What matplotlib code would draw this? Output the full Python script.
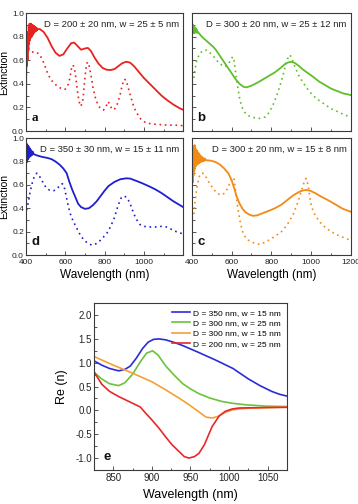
import matplotlib
matplotlib.use("Agg")
import matplotlib.pyplot as plt
from matplotlib.ticker import MultipleLocator

plt.rcParams["font.family"] = ["Liberation Sans", "DejaVu Sans"]
plt.rcParams["axes.unicode_minus"] = False

# ---- panel a: D = 200 nm, w = 25 nm (red)
a_exp_wl = [400, 401, 402, 404, 406, 408, 410, 412, 414, 416, 418, 420, 422, 424, 426,
            428, 430, 432, 434, 436, 438, 440, 442, 444, 446, 448, 450, 452, 454, 456,
            460, 470, 490, 510, 530, 550, 570, 590, 610,
            630, 645, 660, 680, 700, 715, 730, 750, 770, 790, 810, 830, 850, 870, 890,
            910, 930, 950, 970, 1000, 1030, 1060, 1090, 1120, 1150, 1180, 1200]
a_exp = [0.02, 0.45, 0.62, 0.55, 0.75, 0.60, 0.84, 0.68, 0.89, 0.74, 0.91, 0.77, 0.90,
         0.79, 0.91, 0.80, 0.90, 0.81, 0.90, 0.82, 0.89, 0.83, 0.89, 0.84, 0.885, 0.845,
         0.88, 0.85, 0.875, 0.855, 0.865, 0.865, 0.84, 0.79, 0.72,
         0.665, 0.637, 0.65, 0.70, 0.745, 0.75, 0.725, 0.69, 0.70, 0.705, 0.68, 0.62,
         0.57, 0.535, 0.52, 0.517, 0.525, 0.55, 0.575, 0.588, 0.58, 0.55, 0.51, 0.45,
         0.40, 0.35, 0.30, 0.26, 0.225, 0.195, 0.18]
a_sim_wl = [430, 450, 470, 490, 510, 525, 545, 565, 585, 600, 612, 622, 632, 640, 648,
            656, 664, 672, 680, 690, 700, 708, 714, 722, 732, 742, 755, 770, 785, 795,
            808, 819, 830, 840, 852, 865, 878, 890, 900, 910, 920, 935, 950, 965, 985,
            1010, 1040, 1080, 1120, 1160, 1200]
a_sim = [0.67, 0.67, 0.65, 0.58, 0.49, 0.44, 0.40, 0.375, 0.355, 0.355, 0.38, 0.44, 0.53,
         0.56, 0.52, 0.42, 0.31, 0.24, 0.21, 0.27, 0.45, 0.57, 0.585, 0.55, 0.46, 0.36,
         0.27, 0.21, 0.185, 0.178, 0.21, 0.25, 0.21, 0.18, 0.19, 0.23, 0.30, 0.39, 0.44,
         0.43, 0.37, 0.28, 0.20, 0.15, 0.10, 0.07, 0.06, 0.055, 0.05, 0.05, 0.045]

# ---- panel b: D = 300 nm, w = 25 nm (green)
b_exp_wl = [400, 401, 402, 404, 406, 408, 410, 412, 414, 416, 418, 420, 422, 424, 426,
            428, 430, 450, 470, 490,
            507, 520, 540, 560, 580, 600, 620, 640, 660, 675, 700, 730, 760, 790, 820,
            850, 870, 890, 905, 920, 940, 960, 985, 1010, 1040, 1070, 1100, 1130, 1160, 1200]
b_exp = [0.90, 0.82, 0.91, 0.83, 0.90, 0.84, 0.89, 0.83, 0.88, 0.84, 0.875, 0.835, 0.865,
         0.835, 0.855, 0.835, 0.84, 0.80,
         0.77, 0.74, 0.715, 0.69, 0.64, 0.59, 0.54, 0.49, 0.44, 0.40, 0.375, 0.37, 0.385,
         0.41, 0.44, 0.47, 0.50, 0.54, 0.57, 0.585, 0.586, 0.575, 0.55, 0.52, 0.49, 0.46,
         0.42, 0.39, 0.36, 0.34, 0.32, 0.305]
b_sim_wl = [410, 415, 425, 440, 460, 475, 490, 510, 530, 550, 566, 580, 595, 605, 612,
            620, 630, 640, 650, 665, 685, 710, 740, 770, 790, 805, 818, 835, 855, 872,
            885, 893, 900, 915, 935, 960, 985, 1010, 1040, 1070, 1100, 1140, 1170, 1200]
b_sim = [0.45, 0.52, 0.60, 0.66, 0.685, 0.685, 0.665, 0.63, 0.59, 0.56, 0.545, 0.56, 0.60,
         0.63, 0.60, 0.50, 0.38, 0.28, 0.21, 0.16, 0.13, 0.115, 0.107, 0.12, 0.16, 0.21,
         0.26, 0.34, 0.45, 0.56, 0.63, 0.645, 0.63, 0.56, 0.48, 0.41, 0.35, 0.30, 0.26,
         0.225, 0.19, 0.16, 0.135, 0.12]

# ---- panel d: D = 350 nm, w = 15 nm (blue)
d_exp_wl = [400, 401, 402, 404, 406, 408, 410, 412, 414, 416, 418, 420, 422, 424, 426,
            428, 430, 432, 434, 436, 438, 450, 480, 510, 530, 550, 573, 590, 607, 620,
            635, 650, 665, 680, 700,
            720, 740, 760, 780, 800, 820, 850, 880, 910, 930, 960, 990, 1030, 1060, 1090,
            1120, 1150, 1180, 1200]
d_exp = [0.80, 0.94, 0.79, 0.95, 0.80, 0.94, 0.82, 0.93, 0.83, 0.92, 0.84, 0.91, 0.845,
         0.90, 0.85, 0.89, 0.855, 0.885, 0.86, 0.88, 0.865, 0.855, 0.84, 0.83, 0.82,
         0.80, 0.77, 0.74, 0.70, 0.63, 0.56,
         0.50, 0.44, 0.41, 0.395, 0.40, 0.425, 0.46, 0.505, 0.55, 0.59, 0.625, 0.648,
         0.656, 0.654, 0.635, 0.615, 0.585, 0.56, 0.53, 0.495, 0.46, 0.43, 0.41]
d_sim_wl = [403, 412, 420, 429, 440, 455, 470, 490, 505, 520, 541, 560, 575, 585, 595,
            605, 615, 625, 640, 658, 680, 700, 720, 735, 755, 775, 795, 811, 830, 850,
            870, 885, 900, 915, 930, 945, 960, 981, 1000, 1032, 1060, 1090, 1115, 1140,
            1165, 1200]
d_sim = [0.385, 0.45, 0.53, 0.60, 0.66, 0.70, 0.67, 0.61, 0.57, 0.555, 0.55, 0.57, 0.60,
         0.61, 0.58, 0.50, 0.42, 0.355, 0.29, 0.23, 0.16, 0.12, 0.095, 0.085, 0.095, 0.12,
         0.155, 0.185, 0.24, 0.32, 0.43, 0.49, 0.505, 0.49, 0.44, 0.37, 0.31, 0.26, 0.245,
         0.24, 0.24, 0.245, 0.24, 0.22, 0.20, 0.18]

# ---- panel c: D = 300 nm, w = 15 nm (orange)
c_exp_wl = [400, 401, 402, 404, 406, 408, 410, 412, 414, 416, 418, 420, 422, 424, 426,
            428, 430, 432, 434, 436, 438, 440, 442, 444, 446, 448, 450, 454, 458, 462,
            466, 470, 480, 500, 520, 540, 560, 583, 600, 615,
            625, 640, 655, 670, 690, 708, 730, 760, 790, 818, 850, 880, 910, 940, 960,
            977, 995, 1020, 1050, 1069, 1100, 1130, 1160, 1200]
c_exp = [0.10, 0.55, 0.78, 0.62, 0.90, 0.68, 0.93, 0.72, 0.94, 0.74, 0.91, 0.76, 0.90,
         0.77, 0.89, 0.78, 0.88, 0.78, 0.87, 0.79, 0.86, 0.79, 0.85, 0.795, 0.845, 0.80,
         0.84, 0.80, 0.83, 0.805, 0.825, 0.81, 0.81, 0.805, 0.795,
         0.775, 0.745, 0.70, 0.64, 0.56, 0.50, 0.44, 0.395, 0.365, 0.345, 0.335, 0.34,
         0.36, 0.38, 0.40, 0.43, 0.47, 0.51, 0.54, 0.553, 0.556, 0.55, 0.53, 0.50, 0.484,
         0.455, 0.425, 0.395, 0.37]
c_sim_wl = [410, 415, 425, 440, 455, 470, 490, 510, 530, 549, 565, 580, 595, 605, 612,
            620, 630, 641, 655, 670, 683, 710, 742, 770, 800, 830, 851, 880, 910, 935,
            955, 968, 975, 985, 995, 1002, 1020, 1045, 1069, 1100, 1140, 1170, 1200]
c_sim = [0.35, 0.44, 0.58, 0.69, 0.70, 0.67, 0.61, 0.56, 0.525, 0.513, 0.53, 0.57, 0.63,
         0.665, 0.65, 0.55, 0.42, 0.30, 0.20, 0.15, 0.128, 0.105, 0.091, 0.11, 0.14,
         0.175, 0.20, 0.26, 0.35, 0.46, 0.57, 0.64, 0.655, 0.60, 0.48, 0.413, 0.34, 0.28,
         0.24, 0.20, 0.165, 0.145, 0.125]

# ---- panel e: Re(n)
e_blue_wl = [825, 835, 845, 857, 865, 872, 880, 888, 895, 902, 909, 918, 930, 940, 960,
             982, 1005, 1025, 1040, 1055, 1065, 1075]
e_blue = [1.04, 0.95, 0.88, 0.83, 0.86, 0.93, 1.10, 1.30, 1.43, 1.49, 1.50, 1.48, 1.42,
          1.36, 1.22, 1.06, 0.88, 0.66, 0.52, 0.40, 0.34, 0.30]
e_green_wl = [825, 835, 845, 857, 865, 875, 885, 893, 901, 908, 918, 930, 940, 950, 961,
              975, 990, 1004, 1020, 1047, 1075]
e_green = [0.80, 0.66, 0.56, 0.52, 0.58, 0.76, 1.02, 1.20, 1.25, 1.16, 0.93, 0.72, 0.56,
           0.45, 0.35, 0.26, 0.19, 0.15, 0.12, 0.09, 0.08]
e_orange_wl = [825, 850, 875, 900, 918, 935, 948, 960, 970, 978, 985, 995, 1004, 1015,
               1025, 1050, 1075]
e_orange = [1.13, 0.95, 0.78, 0.60, 0.43, 0.26, 0.12, -0.02, -0.14, -0.16, -0.13, -0.04,
            0.01, 0.035, 0.046, 0.06, 0.07]
e_red_wl = [825, 835, 845, 857, 866, 875, 885, 892, 900, 909, 918, 926, 935, 942, 948,
            955, 961, 968, 978, 987, 995, 1004, 1013, 1030, 1050, 1075]
e_red = [0.81, 0.55, 0.40, 0.29, 0.22, 0.15, 0.07, -0.06, -0.20, -0.37, -0.56, -0.72,
         -0.86, -0.97, -1.00, -0.97, -0.90, -0.72, -0.34, -0.12, -0.02, 0.03, 0.05, 0.055,
         0.06, 0.065]

e_labels = ["D = 350 nm, w = 15 nm", "D = 300 nm, w = 25 nm",
            "D = 300 nm, w = 15 nm", "D = 200 nm, w = 25 nm"]

RED = "#e8231f"
GREEN = "#5fbf2a"
BLUE = "#1f1fcf"
ORANGE = "#f28a16"
SPINE = "#3a3a3a"


def style_axes(ax, xlab, ylab, tick_size, xpad=1.5):
    for s in ax.spines.values():
        s.set_color(SPINE)
        s.set_linewidth(0.8)
    ax.tick_params(which="both", direction="in", colors=SPINE, labelcolor="#222222",
                   labelsize=tick_size, width=0.6, pad=1.5)
    ax.tick_params(axis="x", which="both", pad=xpad)
    ax.tick_params(which="major", length=3)
    ax.tick_params(which="minor", length=1.8)
    if not xlab:
        ax.tick_params(axis="x", labelbottom=False)
    if not ylab:
        ax.tick_params(axis="y", labelleft=False)


def extinction_panel(ax, wl1, v1, wl2, v2, color, text, letter, xlab, ylab,
                     letter_font="Liberation Sans"):
    ax.plot(wl1, v1, color=color, lw=1.3)
    ax.plot(wl2, v2, color=color, lw=1.2, linestyle=(0, (1, 2.2)))
    ax.set_xlim(400, 1200)
    ax.set_ylim(0, 1.0)
    ax.xaxis.set_major_locator(MultipleLocator(200))
    ax.xaxis.set_minor_locator(MultipleLocator(100))
    ax.yaxis.set_major_locator(MultipleLocator(0.2))
    ax.yaxis.set_minor_locator(MultipleLocator(0.1))
    style_axes(ax, xlab, ylab, 6, xpad=3.2)
    ax.text(0.975, 0.905, text, transform=ax.transAxes, ha="right", va="center",
            fontsize=6.8, color="#222222")
    ax.text(0.035, 0.06, letter, transform=ax.transAxes, ha="left", va="bottom",
            fontsize=9.5, fontweight="bold", family=letter_font, color="#111111")
    if ylab:
        ax.set_ylabel("Extinction", fontsize=7.5, labelpad=2)
    if xlab:
        ax.set_xlabel("Wavelength (nm)", fontsize=8.5, labelpad=1.5)


fig = plt.figure(figsize=(3.58, 5.04), dpi=100)
ax_a = fig.add_axes([0.0726, 0.740, 0.439, 0.234])
ax_b = fig.add_axes([0.536, 0.740, 0.444, 0.234])
ax_d = fig.add_axes([0.0726, 0.494, 0.439, 0.232])
ax_c = fig.add_axes([0.536, 0.494, 0.444, 0.232])
ax_e = fig.add_axes([0.2626, 0.0675, 0.539, 0.331])

extinction_panel(ax_a, a_exp_wl, a_exp, a_sim_wl, a_sim, RED,
                 "D = 200 \u00b1 20 nm, w = 25 \u00b1 5 nm", "a", False, True,
                 letter_font="Liberation Serif")
extinction_panel(ax_b, b_exp_wl, b_exp, b_sim_wl, b_sim, GREEN,
                 "D = 300 \u00b1 20 nm, w = 25 \u00b1 12 nm", "b", False, False)
extinction_panel(ax_d, d_exp_wl, d_exp, d_sim_wl, d_sim, BLUE,
                 "D = 350 \u00b1 30 nm, w = 15 \u00b1 11 nm", "d", True, True)
extinction_panel(ax_c, c_exp_wl, c_exp, c_sim_wl, c_sim, ORANGE,
                 "D = 300 \u00b1 20 nm, w = 15 \u00b1 8 nm", "c", True, False)
ax_d.set_xticks([400, 600, 800, 1000])

e_colors = ["#2b2bd9", "#6cc23a", "#f5a033", "#e8282b"]
for wl, vals, col, lab in zip([e_blue_wl, e_green_wl, e_orange_wl, e_red_wl],
                              [e_blue, e_green, e_orange, e_red], e_colors, e_labels):
    ax_e.plot(wl, vals, color=col, lw=1.2, label=lab)
ax_e.set_xlim(825, 1075)
ax_e.set_ylim(-1.25, 2.25)
ax_e.xaxis.set_major_locator(MultipleLocator(50))
ax_e.xaxis.set_minor_locator(MultipleLocator(25))
ax_e.yaxis.set_major_locator(MultipleLocator(0.5))
ax_e.yaxis.set_minor_locator(MultipleLocator(0.25))
style_axes(ax_e, True, True, 7, xpad=2.5)
ax_e.set_xlabel("Wavelength (nm)", fontsize=9, labelpad=4)
ax_e.set_ylabel("Re (n)", fontsize=9, labelpad=5)
ax_e.text(0.05, 0.04, "e", transform=ax_e.transAxes, ha="left", va="bottom",
          fontsize=9.5, fontweight="bold", color="#111111")
ax_e.legend(loc="upper right", frameon=False, fontsize=6.0, handlelength=2.2,
            handletextpad=0.35, labelspacing=0.3, borderaxespad=0.3,
            bbox_to_anchor=(1.0, 1.0))

fig.savefig("out.png", dpi=100)
